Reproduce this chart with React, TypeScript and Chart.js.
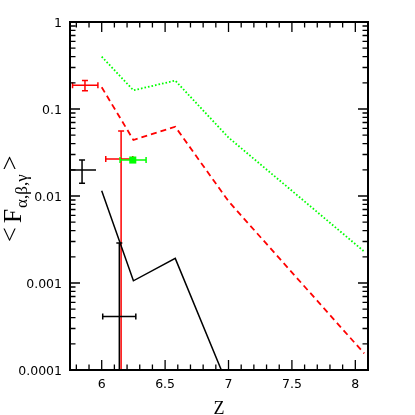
import { useEffect, useRef } from "react";
import { Chart, registerables } from "chart.js";

Chart.register(...registerables);

// ---- data ----
const zModel = [6, 6.25, 6.58, 7, 8.07];
const greenModel = [0.4, 0.164, 0.212, 0.047, 0.0023];
const redModel = [0.178, 0.044, 0.0626, 0.0087, 0.000155];
const zBlack = [6, 6.25, 6.58, 7];
const blackModel = [0.0115, 0.00106, 0.00192, 0.000063];

// error-bar measurements
const errX = [5.868, 5.845, 6.153, 6.245, 6.139];
const errY = [0.187, 0.0199, 0.0266, 0.0259, 0.000412];
const errXLo = [5.77, 5.758, 6.032, 6.145, 6.008];
const errXHi = [5.97, 5.955, 6.245, 6.35, 6.269];
const errYLo: (number | null)[] = [0.162, 0.014, 0.00001, null, 0.00001];
const errYHi: (number | null)[] = [0.213, 0.0259, 0.0558, null, 0.00288];
const errColor = ["#ff0000", "#000000", "#ff0000", "#00ff00", "#000000"];
const errCapX = [true, false, true, true, true];
const errCapY = [true, true, true, false, true];

const markerX = [6.245];
const markerY = [0.0259];

const xTickValues = [6, 6.5, 7, 7.5, 8];
const xTickLabels = ["6", "6.5", "7", "7.5", "8"];
const yTickValues = [0.0001, 0.001, 0.01, 0.1, 1];
const yTickLabels = ["0.0001", "0.001", "0.01", "0.1", "1"];

const X_MIN = 5.75;
const X_MAX = 8.1;

const decoPlugin = {
  id: "deco",
  beforeDatasetsDraw(chart: any) {
    const { ctx, chartArea, scales } = chart;
    const xs = scales.x;
    const ys = scales.y;
    ctx.save();
    ctx.beginPath();
    ctx.rect(chartArea.left, chartArea.top, chartArea.right - chartArea.left, chartArea.bottom - chartArea.top);
    ctx.clip();
    ctx.lineWidth = 1.5;
    const cap = 3;
    for (let i = 0; i < errX.length; i++) {
      ctx.strokeStyle = errColor[i];
      const px = xs.getPixelForValue(errX[i]);
      const py = ys.getPixelForValue(errY[i]);
      const x0 = xs.getPixelForValue(errXLo[i]);
      const x1 = xs.getPixelForValue(errXHi[i]);
      ctx.beginPath();
      ctx.moveTo(x0, py);
      ctx.lineTo(x1, py);
      if (errCapX[i]) {
        ctx.moveTo(x0, py - cap);
        ctx.lineTo(x0, py + cap);
        ctx.moveTo(x1, py - cap);
        ctx.lineTo(x1, py + cap);
      }
      const lo = errYLo[i];
      const hi = errYHi[i];
      if (lo !== null && hi !== null) {
        const y0 = ys.getPixelForValue(lo);
        const y1 = ys.getPixelForValue(hi);
        ctx.moveTo(px, y0);
        ctx.lineTo(px, y1);
        if (errCapY[i]) {
          ctx.moveTo(px - cap, y0);
          ctx.lineTo(px + cap, y0);
          ctx.moveTo(px - cap, y1);
          ctx.lineTo(px + cap, y1);
        }
      }
      ctx.stroke();
    }
    ctx.restore();
  },
  afterDraw(chart: any) {
    const { ctx, chartArea, scales } = chart;
    const xs = scales.x;
    const ys = scales.y;
    const { left, right, top, bottom } = chartArea;
    ctx.save();
    ctx.strokeStyle = "#000";
    // ticks
    ctx.lineWidth = 1.3;
    ctx.beginPath();
    const majLen = 10;
    const minLen = 5.5;
    for (let k = 58; k <= 81; k++) {
      const v = k / 10;
      const px = xs.getPixelForValue(v);
      const len = k % 5 === 0 ? majLen : minLen;
      ctx.moveTo(px, bottom);
      ctx.lineTo(px, bottom - len);
      ctx.moveTo(px, top);
      ctx.lineTo(px, top + len);
    }
    for (let e = -4; e <= 0; e++) {
      for (let m = 1; m <= 9; m++) {
        if (e === 0 && m > 1) break;
        const v = m * Math.pow(10, e);
        const py = ys.getPixelForValue(v);
        const len = m === 1 ? majLen : minLen;
        ctx.moveTo(left, py);
        ctx.lineTo(left + len, py);
        ctx.moveTo(right, py);
        ctx.lineTo(right - len, py);
      }
    }
    ctx.stroke();
    // frame
    ctx.lineWidth = 2;
    ctx.strokeRect(left, top, right - left, bottom - top);

    // tick labels
    ctx.fillStyle = "#000";
    ctx.font = "12.5px 'DejaVu Sans'";
    ctx.textBaseline = "alphabetic";
    ctx.textAlign = "center";
    xTickValues.forEach((v, i) => {
      ctx.fillText(xTickLabels[i], xs.getPixelForValue(v), bottom + 17.5);
    });
    ctx.textAlign = "right";
    yTickValues.forEach((v, i) => {
      ctx.fillText(yTickLabels[i], left - 8, ys.getPixelForValue(v) + 4.5);
    });

    // x title
    ctx.font = "18px 'Liberation Serif'";
    ctx.textAlign = "center";
    ctx.fillText("Z", (left + right) / 2, 413.5);

    // y title: <F_{α,β,γ}>
    ctx.save();
    ctx.translate(20.5, 242);
    ctx.rotate(-Math.PI / 2);
    ctx.textAlign = "left";
    let pos = 0;
    ctx.font = "26px 'Liberation Serif'";
    ctx.fillText("<", pos, -3);
    pos += ctx.measureText("<").width + 4;
    ctx.fillText("F", pos, 0);
    pos += ctx.measureText("F").width + 1;
    ctx.font = "17px 'Liberation Serif'";
    ctx.fillText("α,β,γ", pos, 6.5);
    pos += ctx.measureText("α,β,γ").width + 4;
    ctx.font = "26px 'Liberation Serif'";
    ctx.fillText(">", pos, -3);
    ctx.restore();

    ctx.restore();
  },
};

export default function App() {
  const ref = useRef<HTMLCanvasElement | null>(null);
  useEffect(() => {
    if (!ref.current) return;
    const chart = new Chart(ref.current, {
      type: "scatter",
      data: {
        datasets: [
          {
            data: zBlack.map((z, i) => ({ x: z, y: blackModel[i] })),
            showLine: true,
            borderColor: "#000000",
            borderWidth: 1.5,
            pointRadius: 0,
          },
          {
            data: zModel.map((z, i) => ({ x: z, y: redModel[i] })),
            showLine: true,
            borderColor: "#ff0000",
            borderWidth: 1.8,
            borderDash: [6, 4],
            pointRadius: 0,
          },
          {
            data: zModel.map((z, i) => ({ x: z, y: greenModel[i] })),
            showLine: true,
            borderColor: "#00ff00",
            borderWidth: 1.8,
            borderDash: [1.6, 2],
            pointRadius: 0,
          },
          {
            data: markerX.map((z, i) => ({ x: z, y: markerY[i] })),
            showLine: false,
            pointStyle: "rect",
            pointRadius: 5,
            backgroundColor: "#00ff00",
            borderColor: "#00ff00",
            borderWidth: 0,
          },
        ],
      },
      options: {
        animation: false,
        responsive: false,
        layout: { padding: { left: 70, right: 47, top: 22, bottom: 45 } },
        plugins: { legend: { display: false }, tooltip: { enabled: false } },
        scales: {
          x: { type: "linear", min: X_MIN, max: X_MAX, display: false },
          y: { type: "logarithmic", min: 0.0001, max: 1, display: false },
        },
      },
      plugins: [decoPlugin],
    });
    return () => chart.destroy();
  }, []);
  return (
    <div style={{ position: "absolute", left: 0, top: 0, width: 415, height: 415, background: "#fff" }}>
      <canvas ref={ref} width={415} height={415} />
    </div>
  );
}
